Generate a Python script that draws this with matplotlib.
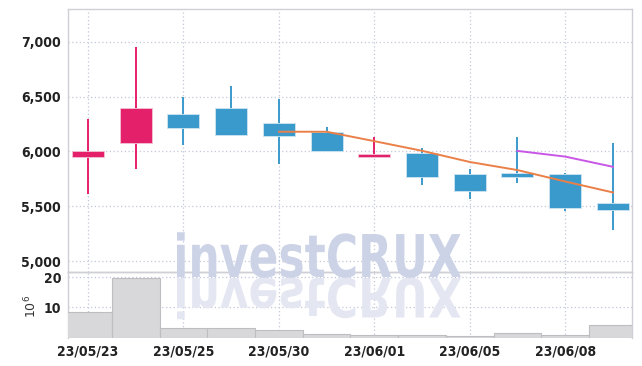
#!/usr/bin/env python3

import numpy as np
import matplotlib.pyplot as plt
from matplotlib.textpath import TextPath
from matplotlib.patches import PathPatch
from matplotlib.font_manager import FontProperties
from matplotlib.transforms import Affine2D

# 날짜 / OHLC / 거래량 (10^6)
dates = ['23/05/23', '23/05/24', '23/05/25', '23/05/26', '23/05/30', '23/05/31',
         '23/06/01', '23/06/02', '23/06/05', '23/06/07', '23/06/08', '23/06/09']
opens = [5950, 6080, 6340, 6400, 6260, 6180, 5950, 5990, 5790, 5800, 5790, 5530]
highs = [6300, 6950, 6500, 6600, 6480, 6220, 6130, 6030, 5840, 6130, 5800, 6080]
lows = [5610, 5840, 6060, 6150, 5890, 6000, 5950, 5690, 5570, 5710, 5460, 5280]
closes = [6000, 6400, 6210, 6150, 6140, 6000, 5970, 5770, 5640, 5770, 5480, 5470]
volumes = [8.6, 19.8, 3.1, 3.1, 2.5, 1.2, 0.9, 0.8, 0.4, 1.6, 0.9, 4.2]

# 이동평균
ma5_idx = [4, 5, 6, 7, 8, 9, 10, 11]
ma5 = [6180, 6180, 6094, 6006, 5904, 5830, 5726, 5626]
ma10_idx = [9, 10, 11]
ma10 = [6005, 5953, 5860]

tick_idx = [0, 2, 4, 6, 8, 10]

UP = '#e5206b'
DOWN = '#3a9acb'
GRID = '#c3c7da'
tick_font = FontProperties(family='DejaVu Sans', stretch='condensed', weight='bold', size=10)

W, H = 642, 366
fig = plt.figure(figsize=(W / 100, H / 100), dpi=100)
ax = fig.add_axes([68 / W, 1 - 272 / H, (632 - 68) / W, (272 - 9) / H])
axv = fig.add_axes([68 / W, 1 - 337.5 / H, (632 - 68) / W, (337.5 - 272) / H], sharex=ax)

x = np.arange(len(dates))

# 워터마크 (반사 포함)
fp = FontProperties(family='DejaVu Sans', weight='bold')
tp = TextPath((0, 0), 'investCRUX', size=50, prop=fp)
bb = tp.get_extents()
sx = 284 / bb.width
sy = 43 / 36.5
x0 = 177 - bb.x0 * sx
base = H - 277
tr = Affine2D().scale(sx, sy).translate(x0, base)
fig.patches.append(PathPatch(tp, transform=tr, facecolor='#ccd3e6', edgecolor='none', zorder=0.5))
tr2 = Affine2D().scale(sx, -sy * 0.92).translate(x0, base - 1)
fig.patches.append(PathPatch(tp, transform=tr2, facecolor='#e4e7f2', edgecolor='none', zorder=0.4))

# 캔들
for i in range(len(dates)):
    c = UP if closes[i] >= opens[i] else DOWN
    ax.vlines(x[i], lows[i], highs[i], color=c, lw=1.4, zorder=3)
    lo = min(opens[i], closes[i])
    h = max(abs(closes[i] - opens[i]), 25)
    ax.bar(x[i], h, 0.67, bottom=lo, color=c, edgecolor='#cfe5f2' if c == DOWN else '#f3c3d5',
           linewidth=0.6, zorder=4)

ax.plot(ma5_idx, ma5, color='#ea8048', lw=1.4, zorder=5)
ax.plot(ma10_idx, ma10, color='#c957e6', lw=1.4, zorder=5)

ax.set_xlim(-0.42, 11.4)
ax.set_ylim(4900, 7300)
ax.set_yticks([5000, 5500, 6000, 6500, 7000])
ax.set_yticklabels(['5,000', '5,500', '6,000', '6,500', '7,000'])
ax.set_xticks(tick_idx)
ax.tick_params(axis='x', labelbottom=False, length=0)
ax.tick_params(axis='y', length=0, pad=5, labelcolor='#222222')
for lb in ax.get_yticklabels():
    lb.set_fontproperties(tick_font)
ax.grid(True, color=GRID, linestyle=(0, (1, 2)), lw=0.9)
ax.set_axisbelow(True)
ax.patch.set_alpha(0)

# 거래량
axv.bar(x, volumes, 1.0, color='#d8d8db', edgecolor='#bdbdc2', linewidth=0.8, zorder=3)
axv.set_ylim(0, 21.8)
axv.set_yticks([10, 20])
axv.set_xticks(tick_idx)
axv.set_xticklabels([dates[i] for i in tick_idx])
axv.tick_params(length=0, labelcolor='#222222')
axv.tick_params(axis='x', pad=5)
axv.tick_params(axis='y', pad=5)
for lb in axv.get_yticklabels() + axv.get_xticklabels():
    lb.set_fontproperties(tick_font)
axv.grid(True, color=GRID, linestyle=(0, (1, 2)), lw=0.9)
axv.set_axisbelow(True)
axv.patch.set_alpha(0)
axv.set_ylabel(r'$10^6$', fontsize=9, color='#333333')
axv.yaxis.set_label_coords(-29 / 564, 0.48)

for a in (ax, axv):
    for s in a.spines.values():
        s.set_color('#cfcfd6')
        s.set_linewidth(1)
axv.spines['bottom'].set_visible(False)
ax.spines['bottom'].set_color('#c8c8ce')

fig.savefig('out.png', dpi=100)
